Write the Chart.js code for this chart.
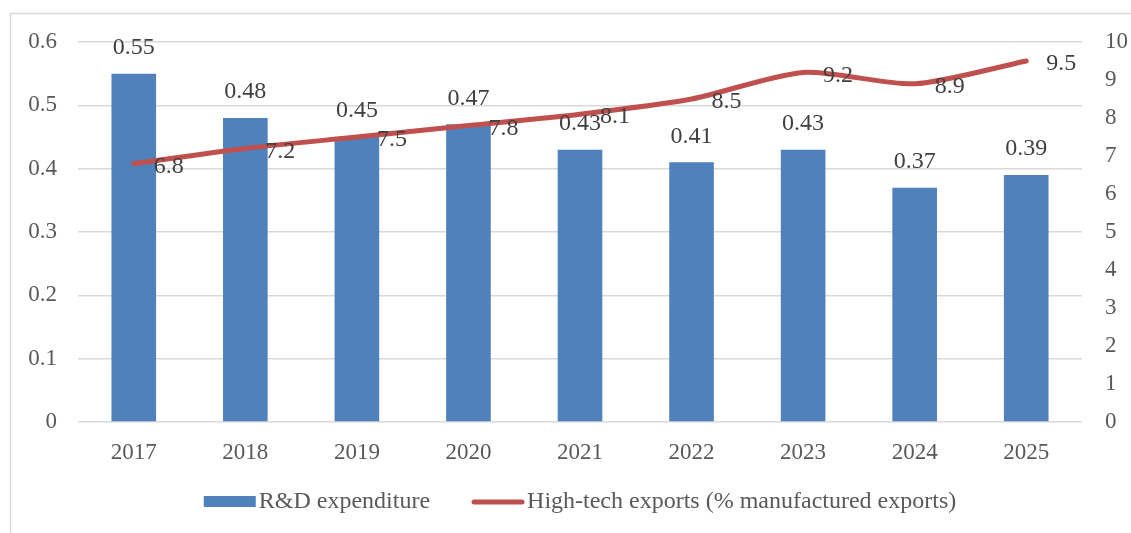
<!DOCTYPE html>
<html>
<head>
<meta charset="utf-8">
<script src="https://cdn.jsdelivr.net/npm/chart.js@4.4.1/dist/chart.umd.min.js"></script>
<style>
  body { margin: 0; background: #fff; }
  #wrap { width: 1131px; height: 533px; position: relative; }
</style>
</head>
<body>
<div id="wrap"><canvas id="myChart"></canvas></div>
<script>
// chart data
const years = ['2017', '2018', '2019', '2020', '2021', '2022', '2023', '2024', '2025'];
const rdSpend = [0.55, 0.48, 0.45, 0.47, 0.43, 0.41, 0.43, 0.37, 0.39];
const hiTechExports = [6.8, 7.2, 7.5, 7.8, 8.1, 8.5, 9.2, 8.9, 9.5];
const leftTicks = [0, 0.1, 0.2, 0.3, 0.4, 0.5, 0.6];
const rightTicks = [0, 1, 2, 3, 4, 5, 6, 7, 8, 9, 10];
const seriesNames = ['R&D expenditure', 'High-tech exports (% manufactured exports)'];

const blue = '#4F81BD';
const red = '#C0504D';
const textGray = '#595959';
const font = "'Liberation Serif', 'Times New Roman', serif";

// outer frame + excel style legend
const framePlugin = {
    id: 'frame',
    beforeDraw(chart) {
        const c = chart.ctx;
        c.save();
        c.fillStyle = '#fff';
        c.fillRect(0, 0, chart.width, chart.height);
        c.strokeStyle = '#d9d9d9';
        c.lineWidth = 1.5;
        c.strokeRect(10.5, 13.5, 1300, 700);
        c.restore();
    },
    afterDraw(chart) {
        const c = chart.ctx;
        c.save();
        c.font = '24px ' + font;
        c.textBaseline = 'middle';
        c.textAlign = 'left';
        const keyW = 52, gapText = 3, gapItem = 42;
        const w0 = c.measureText(seriesNames[0]).width;
        const w1 = c.measureText(seriesNames[1]).width;
        const total = keyW + gapText + w0 + gapItem + keyW + gapText + w1;
        const mid = (chart.chartArea.left + chart.chartArea.right) / 2;
        let x = mid - total / 2;
        const y = chart.chartArea.bottom + 80;
        c.fillStyle = blue;
        c.fillRect(x, y - 6, keyW, 11);
        x += keyW + gapText;
        c.fillStyle = textGray;
        c.fillText(seriesNames[0], x, y);
        x += w0 + gapItem;
        c.strokeStyle = red;
        c.lineWidth = 5;
        c.lineCap = 'round';
        c.beginPath();
        c.moveTo(x + 2, y);
        c.lineTo(x + keyW - 2, y);
        c.stroke();
        x += keyW + gapText;
        c.fillText(seriesNames[1], x, y);
        c.restore();
    }
};

// value labels: above bars, right of line points
const labelPlugin = {
    id: 'valueLabels',
    afterDatasetsDraw(chart) {
        const c = chart.ctx;
        c.save();
        c.font = '24px ' + font;
        c.fillStyle = '#404040';
        c.textBaseline = 'middle';
        chart.getDatasetMeta(0).data.forEach((bar, i) => {
            c.textAlign = 'center';
            c.fillText(rdSpend[i].toFixed(2), bar.x, bar.y - 26);
        });
        chart.getDatasetMeta(1).data.forEach((pt, i) => {
            c.textAlign = 'left';
            c.fillText(hiTechExports[i].toFixed(1), pt.x + 20, pt.y + 3);
        });
        c.restore();
    }
};

const ctx = document.getElementById('myChart');

new Chart(ctx, {
    type: 'bar',
    data: {
        labels: years,
        datasets: [{
            label: seriesNames[0],
            data: rdSpend,
            backgroundColor: blue,
            borderWidth: 0,
            categoryPercentage: 1,
            barPercentage: 0.4,
            yAxisID: 'y',
            order: 2
        }, {
            type: 'line',
            label: seriesNames[1],
            data: hiTechExports,
            borderColor: red,
            backgroundColor: red,
            borderWidth: 5,
            borderCapStyle: 'round',
            tension: 0.25,
            pointRadius: 0,
            yAxisID: 'y1',
            order: 1
        }]
    },
    options: {
        responsive: true,
        maintainAspectRatio: false,
        animation: false,
        layout: { padding: { top: 42, left: 0, right: 0, bottom: 55 } },
        scales: {
            x: {
                grid: { display: false },
                border: { display: false },
                ticks: { color: textGray, font: { family: font, size: 23 }, padding: 9 },
                afterFit(scale) { scale.height = 56; }
            },
            y: {
                position: 'left',
                min: 0,
                max: 0.6,
                afterBuildTicks(scale) { scale.ticks = leftTicks.map(v => ({ value: v })); },
                ticks: {
                    color: textGray,
                    font: { family: font, size: 23 },
                    padding: 21,
                    callback: v => String(v)
                },
                grid: { color: '#d9d9d9', lineWidth: 1.5, drawTicks: false },
                border: { display: false },
                afterFit(scale) { scale.width = 78; }
            },
            y1: {
                position: 'right',
                min: 0,
                max: 10,
                afterBuildTicks(scale) { scale.ticks = rightTicks.map(v => ({ value: v })); },
                ticks: {
                    color: textGray,
                    font: { family: font, size: 23 },
                    padding: 23
                },
                grid: { display: false, drawTicks: false },
                border: { display: false },
                afterFit(scale) { scale.width = 49; }
            }
        },
        plugins: {
            legend: { display: false },
            tooltip: { enabled: false }
        }
    },
    plugins: [framePlugin, labelPlugin]
});
</script>
</body>
</html>
